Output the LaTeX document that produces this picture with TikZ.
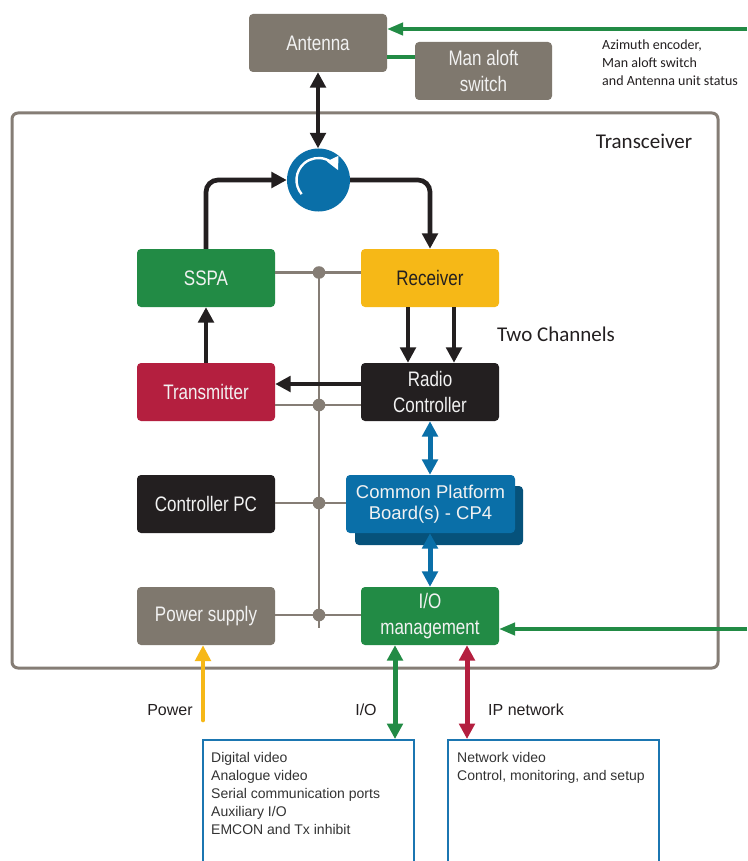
\documentclass[tikz,border=0pt]{standalone}
\usepackage{fontspec}
\setmainfont{Liberation Sans}
\newfontfamily\narrowfont[FakeStretch=0.81]{Liberation Sans}
\newfontfamily\calfont{Carlito}
\usetikzlibrary{arrows.meta}
\definecolor{cgrey}{HTML}{7F786E}
\definecolor{cgreen}{HTML}{228B45}
\definecolor{cyellow}{HTML}{F6B817}
\definecolor{cred}{HTML}{B41F3F}
\definecolor{cblack}{HTML}{231F20}
\definecolor{cblue}{HTML}{0A6FA8}
\definecolor{cblued}{HTML}{06527B}
\definecolor{busc}{HTML}{857D75}
\definecolor{bboxc}{HTML}{1B76B1}
\definecolor{boxtxt}{HTML}{F2F2F2}
\definecolor{dtxt}{HTML}{333333}
\tikzset{
  blk/.style={rectangle, rounded corners=4pt, minimum width=138pt, minimum height=58pt,
    inner sep=0pt, text=boxtxt, align=center, font=\narrowfont\fontsize{21}{26}\selectfont},
  bus/.style={draw=busc, line width=2.8pt},
  ka/.style={draw=cblack, line width=4.7pt},
  ba/.style={draw=cblue, line width=5pt},
  thinga/.style={draw=cgreen, line width=3.2pt, -{Triangle[length=16pt,width=12.5pt]}},
  ga/.style={draw=cgreen, line width=5pt},
  ra/.style={draw=cred, line width=5pt},
  ya/.style={draw=cyellow, line width=4.7pt, line cap=round},
  lbl/.style={font=\fontsize{16}{19}\selectfont, text=cblack},
  listtxt/.style={anchor=north west, inner sep=0pt, align=left, text=dtxt, font=\fontsize{14}{18}\selectfont},
  outbox/.style={draw=bboxc, line width=2pt, anchor=north west, minimum width=211pt, minimum height=150pt, inner sep=0pt},
  >={Triangle[length=15.5pt,width=15.5pt]}
}
\begin{document}
\begin{tikzpicture}[x=1pt,y=-1pt]
\useasboundingbox (0,0) rectangle (747,861);
\clip (0,0) rectangle (747,861);
\fill[white] (0,0) rectangle (747,861);

% Transceiver frame
\draw[draw=busc, line width=3pt, rounded corners=6pt] (12,113) rectangle (718,668);
\node[font=\calfont\fontsize{21}{24}\selectfont, text=cblack] (trx) at (644,141) {Transceiver};
\node[font=\calfont\fontsize{21}{24}\selectfont, text=cblack] (twoch) at (556,334) {Two Channels};

% Top boxes
\node[blk, fill=cgrey] (ant) at (318,43) {Antenna};
\node[blk, fill=cgrey, minimum width=137pt] (man) at (483.5,71) {Man aloft\\switch};
\node[anchor=north west, inner sep=0pt, align=left, text=cblack,
      font=\calfont\fontsize{14}{18}\selectfont] (azi) at (602,40)
  {Azimuth encoder,\\Man aloft switch\\and Antenna unit status};

% Blocks
\node[blk, fill=cgreen] (sspa) at (206,278) {SSPA};
\node[blk, fill=cyellow, text=cblack] (rx) at (430,278) {Receiver};
\node[blk, fill=cred] (tx) at (206,392) {Transmitter};
\node[blk, fill=cblack] (rc) at (430,392) {Radio\\Controller};
\node[blk, fill=cblack] (pc) at (206,504) {Controller PC};
\node[blk, fill=cgrey] (ps) at (206,616) {Power supply};
\node[blk, fill=cgreen] (io) at (430,616) {I/O\\management};
\fill[cblued, rounded corners=4pt] (355,486) rectangle (523,545);
\node[blk, fill=cblue, minimum width=169pt, font=\fontsize{18.5}{21}\selectfont] (cp) at (430.5,504)
  {Common Platform\\Board(s) - CP4};

% Circulator
\node[circle, fill=cblue, minimum size=63pt, inner sep=0pt] (circ) at (318.5,180) {};
\begin{scope}[shift={(circ.center)}, x=1pt, y=1pt]
  \draw[white, line width=2.4pt, -{Triangle[length=13pt,width=12pt]}]
    (220:22) arc[start angle=220, end angle=26, radius=22];
\end{scope}

% Bus
\coordinate (j1) at (319,272.5);
\coordinate (j2) at (319,405);
\coordinate (j3) at (319,503);
\coordinate (j4) at (319,615);
\coordinate (jend) at (319,628);
\draw[bus] (j1) -- (jend);
\draw[bus] (j1 -| sspa.east) -- (j1 -| rx.west);
\draw[bus] (j2 -| tx.east) -- (j2 -| rc.west);
\draw[bus] (j3 -| pc.east) -- (j3 -| cp.west);
\draw[bus] (j4 -| ps.east) -- (j4 -| io.west);
\foreach \j in {j1,j2,j3,j4} \fill[busc] (\j) circle (6.3pt);

% Black arrows
\draw[ka, <->] (ant.south) -- (ant.south |- circ.north);
\draw[ka, ->, rounded corners=12pt] (sspa.north) |- (circ.west);
\draw[ka, ->, rounded corners=12pt] (circ.east) -| (rx.north);
\draw[ka, ->] (tx.north) -- (sspa.south);
\draw[ka, ->] ([xshift=-22pt]rx.south) -- ([xshift=-22pt]rc.north);
\draw[ka, ->] ([xshift=24pt]rx.south) -- ([xshift=24pt]rc.north);
\draw[ka, ->] ([yshift=8pt]rc.west) -- ([yshift=8pt]tx.east);

% Blue arrows
\draw[ba, <->] (rc.south) -- (rc.south |- cp.north);
\draw[ba, <->] (rc.south |- cp.south) -- (io.north);

% Green signal lines
\coordinate (gin1) at (747,29);
\draw[thinga] (gin1) -- (gin1 -| ant.east);
\draw[draw=cgreen, line width=3.2pt] ([yshift=14pt]man.west) -- ([yshift=14pt]man.west -| ant.east);
\coordinate (gin2) at (747,629);
\draw[thinga] (gin2) -- (gin2 -| io.east);

% Outer boxes
\node[outbox] (bl) at (202,739) {};
\node[outbox] (br) at (447,739) {};
\node[listtxt] (bltxt) at (211,752) {Digital video\\Analogue video\\Serial communication ports\\Auxiliary I/O\\EMCON and Tx inhibit};
\node[listtxt] (brtxt) at (457,752) {Network video\\Control, monitoring, and setup};

% Bottom arrows
\coordinate (pwr) at (203,720);
\draw[ya, -{Triangle[length=16pt,width=15.5pt]}] (pwr) -- (pwr |- ps.south);
\draw[ga, <->] ([xshift=-35pt]io.south) -- ([xshift=-35pt]io.south |- bl.north);
\draw[ra, <->] ([xshift=37pt]io.south) -- ([xshift=37pt]io.south |- br.north);

\node[lbl] (lpwr) at (170,710) {Power};
\node[lbl] (lio) at (366,710) {I/O};
\node[lbl] (lip) at (526,710) {IP network};
\end{tikzpicture}
\end{document}
